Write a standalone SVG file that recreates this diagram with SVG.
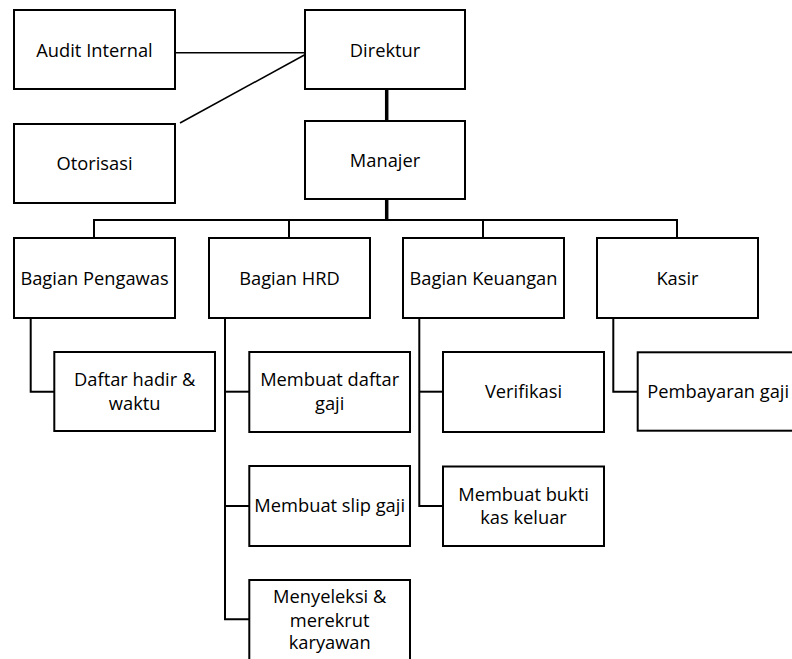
<svg xmlns="http://www.w3.org/2000/svg" width="792" height="659" viewBox="0 0 792 659">
<style>
.box{fill:#fff;stroke:#000;stroke-width:2}
.t{font-family:"Open Sans","Liberation Sans",sans-serif;font-size:18.3px;fill:#000;text-anchor:middle}
.c{fill:none;stroke:#000;stroke-width:2}
.ct{fill:none;stroke:#000;stroke-width:3.5}
.cl{fill:none;stroke:#000;stroke-width:1.5}
</style>
<rect width="792" height="659" fill="#fff"/>
<g id="connectors">
<line class="cl" x1="175" y1="52.7" x2="306" y2="52.7"/>
<line class="cl" x1="180" y1="123" x2="308" y2="53"/>
<line class="ct" x1="386.7" y1="89" x2="386.7" y2="121"/>
<line class="ct" x1="386.7" y1="199" x2="386.7" y2="220"/>
<polyline class="c" points="94,238 94,220 677,220 677,238"/>
<line class="c" x1="289" y1="220" x2="289" y2="238"/>
<line class="c" x1="483" y1="220" x2="483" y2="238"/>
<polyline class="c" points="30.7,318 30.7,391.7 54.3,391.7"/>
<polyline class="c" points="225,318 225,619.3 249.3,619.3"/>
<line class="c" x1="225" y1="391.7" x2="249.3" y2="391.7"/>
<line class="c" x1="225" y1="506" x2="249.3" y2="506"/>
<polyline class="c" points="419.3,318 419.3,506 443,506"/>
<line class="c" x1="419.3" y1="391.7" x2="443" y2="391.7"/>
<polyline class="c" points="613.3,318 613.3,391.7 637.7,391.7"/>
</g>
<g id="audit-internal"><rect class="box" x="14" y="10" width="161" height="79"/><text class="t" x="94.5" y="56.5">Audit Internal</text></g>
<g id="direktur"><rect class="box" x="305" y="10" width="160" height="79"/><text class="t" x="385" y="56.5">Direktur</text></g>
<g id="otorisasi"><rect class="box" x="14" y="124" width="161" height="79"/><text class="t" x="94.5" y="170">Otorisasi</text></g>
<g id="manajer"><rect class="box" x="305" y="121" width="160" height="78"/><text class="t" x="385" y="167">Manajer</text></g>
<g id="bagian-pengawas"><rect class="box" x="14" y="238" width="161" height="80"/><text class="t" x="94.5" y="284.5">Bagian Pengawas</text></g>
<g id="bagian-hrd"><rect class="box" x="209" y="238" width="161" height="80"/><text class="t" x="289.5" y="284.5">Bagian HRD</text></g>
<g id="bagian-keuangan"><rect class="box" x="403" y="238" width="161" height="80"/><text class="t" x="483.5" y="284.5">Bagian Keuangan</text></g>
<g id="kasir"><rect class="box" x="597" y="238" width="161" height="80"/><text class="t" x="677.5" y="284.5">Kasir</text></g>
<g id="daftar-hadir"><rect class="box" x="54.3" y="352" width="160.7" height="79"/><text class="t" x="134.7" y="385.7">Daftar hadir &amp;</text><text class="t" x="134.7" y="410">waktu</text></g>
<g id="membuat-daftar-gaji"><rect class="box" x="249.3" y="352" width="160.7" height="80"/><text class="t" x="329.7" y="385.7">Membuat daftar</text><text class="t" x="329.7" y="410">gaji</text></g>
<g id="membuat-slip-gaji"><rect class="box" x="249.3" y="466" width="160.7" height="80"/><text class="t" x="329.7" y="512.3">Membuat slip gaji</text></g>
<g id="menyeleksi"><rect class="box" x="249.3" y="580" width="160.7" height="90"/><text class="t" x="329.7" y="603.3">Menyeleksi &amp;</text><text class="t" x="329.7" y="626.7">merekrut</text><text class="t" x="329.7" y="649.3">karyawan</text></g>
<g id="verifikasi"><rect class="box" x="443" y="352" width="161" height="80"/><text class="t" x="523.5" y="398">Verifikasi</text></g>
<g id="membuat-bukti-kas-keluar"><rect class="box" x="443" y="466.5" width="161" height="79.5"/><text class="t" x="523.5" y="500.5">Membuat bukti</text><text class="t" x="523.5" y="524">kas keluar</text></g>
<g id="pembayaran-gaji"><rect class="box" x="637.7" y="352.3" width="161" height="78.4"/><text class="t" x="718.2" y="398">Pembayaran gaji</text></g>
</svg>
